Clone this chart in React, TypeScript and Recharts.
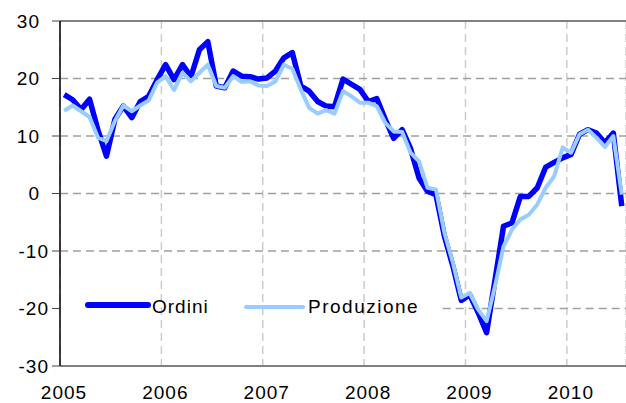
import { LineChart, Line, XAxis, YAxis, CartesianGrid, ReferenceLine } from 'recharts';

const FONT = '"Liberation Sans", Arial, sans-serif';
const DARK = '#0000ff';
const LIGHT = '#99ccff';

// monthly, Jan 2005 .. Jul 2010
const startYear = 2005;
const ordini = [
  17.2, 16.3, 14.6, 16.4, 11, 6.5, 12.9, 15.2, 13.2, 16, 16.9, 19.8,
  22.4, 19.8, 22.4, 20.3, 25, 26.4, 18.7, 18.4, 21.3, 20.4, 20.3, 19.9,
  20.1, 21.3, 23.6, 24.5, 18.7, 17.8, 16, 15.2, 15.1, 19.9, 19, 18.1,
  16, 16.5, 12.9, 9.6, 11.1, 7.8, 2.7, 0.4, -0.2, -7.4, -12.6, -18.6,
  -17.6, -20.7, -24.2, -15, -5.7, -5.1, -0.5, -0.5, 1, 4.6, 5.4, 6.2,
  6.8, 10.3, 11.1, 10.5, 8.8, 10.5, -2.2,
];
const produzione = [
  14.4, 15.3, 14.3, 13.3, 9.7, 9.1, 12.6, 15.3, 14.3, 15.3, 16.2, 19.3,
  20.4, 18, 21, 19.5, 21, 22.4, 18.7, 18.4, 20.4, 19.4, 19.5, 18.8,
  18.7, 19.5, 22.4, 21.7, 18.1, 14.9, 13.9, 14.5, 13.9, 17.8, 16.9, 15.8,
  15.8, 15.2, 12.3, 10.8, 10.7, 7.1, 5.6, 1, 0.7, -6.8, -12, -18.1,
  -17.3, -20.2, -22.2, -16.1, -9.2, -6.3, -4.5, -3.7, -1.9, 1, 3, 8,
  7.1, 10.3, 11.1, 9.7, 8.1, 10, -0.2,
];
const yearTicks = [0, 12, 24, 36, 48, 60];
const valueTicks = [-30, -20, -10, 0, 10, 20, 30];
const gridValues = [-10, 0, 10, 20];

// points sit in the middle of each month
const data = ordini.map((v, i) => ({ m: i + 0.5, ordini: v, produzione: produzione[i] }));

const GRID_DASH = '8 5';
const GRID_H = '#a0a0a0';

const YTick = (props: any) => {
  const { x, y, payload } = props;
  // excel pads positive numbers on the right
  const shift = payload.value >= 0 ? 9 : 0;
  return (
    <text
      x={x - shift}
      y={y}
      textAnchor="end"
      dominantBaseline="central"
      fontSize={19}
      letterSpacing={1}
      fill="#000"
      fontFamily={FONT}
    >
      {payload.value}
    </text>
  );
};

export default function App() {
  return (
    <div style={{ position: 'absolute', left: 0, top: 0, width: 626, height: 403, fontFamily: FONT, background: '#fff' }}>
      <LineChart width={626} height={403} data={data} margin={{ top: 21, right: 0, bottom: 7, left: 0 }}>
        <CartesianGrid horizontal={false} stroke="#cccccc" strokeDasharray={GRID_DASH} strokeWidth={1.5} />
        {gridValues.map((v) => (
          <ReferenceLine key={v} y={v} stroke={GRID_H} strokeDasharray={GRID_DASH} strokeWidth={1.5} />
        ))}
        {/* the legend box hides the left part of the -20 line */}
        <ReferenceLine
          segment={[{ x: 45.3, y: -20 }, { x: 67, y: -20 }]}
          stroke={GRID_H}
          strokeDasharray={GRID_DASH}
          strokeWidth={1.5}
        />
        <XAxis
          type="number"
          dataKey="m"
          domain={[0, 67]}
          ticks={yearTicks}
          tickFormatter={(v) => String(startYear + v / 12)}
          axisLine={{ stroke: '#808080', strokeWidth: 2 }}
          tickLine={false}
          tickSize={8}
          tickMargin={12}
          height={30}
          tick={{ fontSize: 19, fill: '#000', dx: 4, letterSpacing: 1 }}
        />
        <YAxis
          domain={[-30, 30]}
          ticks={valueTicks}
          width={60}
          axisLine={{ stroke: '#000', strokeWidth: 1.5 }}
          tickLine={{ stroke: '#444' }}
          tickSize={8}
          tickMargin={3}
          tick={<YTick />}
        />
        <ReferenceLine y={30} stroke="#808080" strokeWidth={2} />
        <Line
          dataKey="ordini"
          stroke={DARK}
          strokeWidth={5.5}
          strokeLinejoin="round"
          dot={false}
          isAnimationActive={false}
        />
        <Line
          dataKey="produzione"
          stroke={LIGHT}
          strokeWidth={4}
          strokeLinejoin="round"
          dot={false}
          isAnimationActive={false}
        />
      </LineChart>
      <svg width={626} height={403} style={{ position: 'absolute', left: 0, top: 0, pointerEvents: 'none' }}>
        <line x1={88} y1={305} x2={148} y2={305} stroke={DARK} strokeWidth={6} strokeLinecap="round" />
        <text x={152} y={306} dominantBaseline="central" fontSize={19} letterSpacing={1} fontFamily={FONT}>
          Ordini
        </text>
        <line x1={246} y1={307} x2={303} y2={307} stroke={LIGHT} strokeWidth={4} strokeLinecap="round" />
        <text x={308} y={306} dominantBaseline="central" fontSize={19} letterSpacing={1.5} fontFamily={FONT}>
          Produzione
        </text>
      </svg>
    </div>
  );
}
